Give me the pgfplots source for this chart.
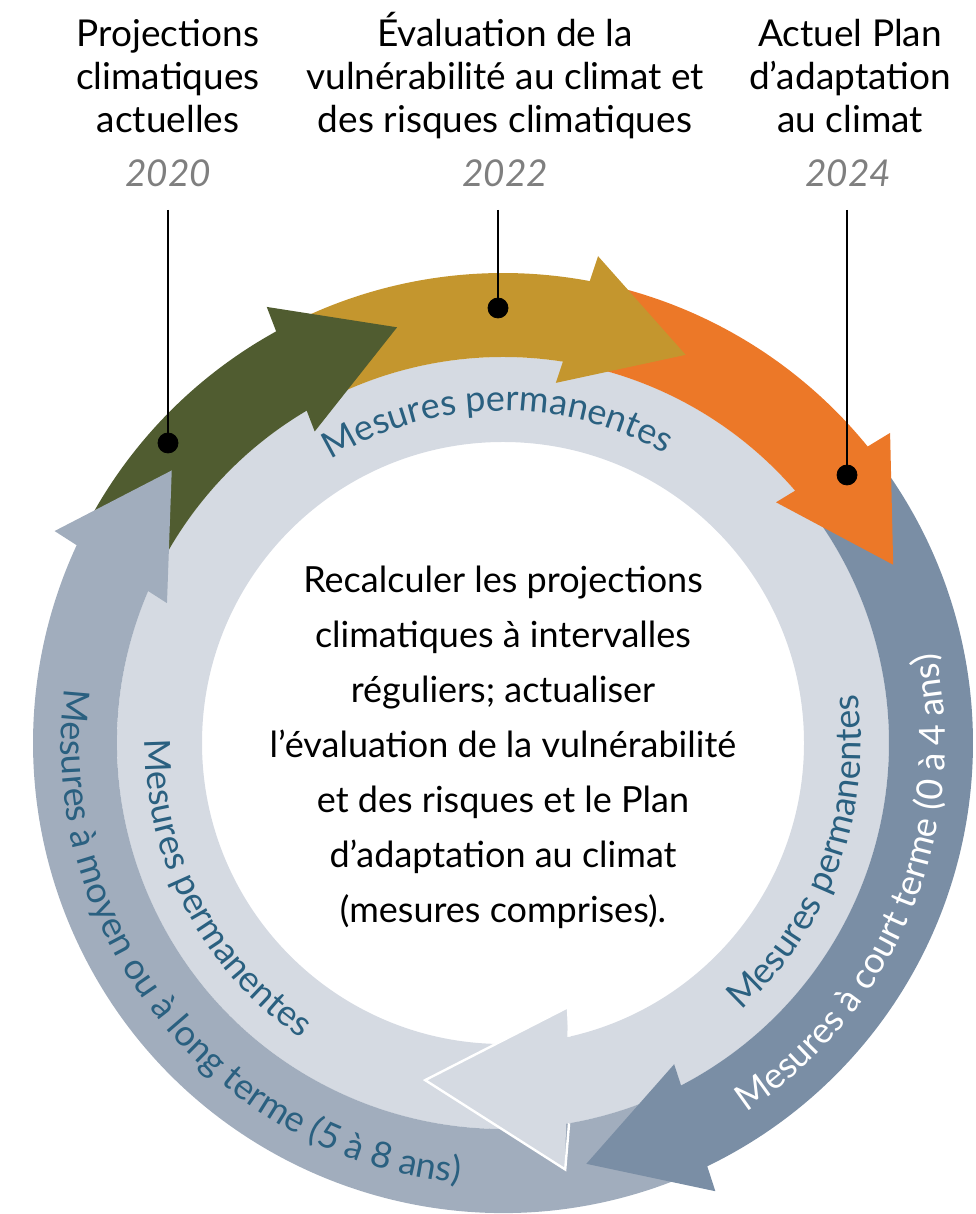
\documentclass[border=0pt]{standalone}
\usepackage{pgfplots}
\pgfplotsset{compat=1.18}
\usepackage{fontspec}
\setmainfont{Lato}
\usetikzlibrary{decorations.text}

\definecolor{cgreen}{HTML}{505C30}
\definecolor{cgold}{HTML}{C4962E}
\definecolor{corange}{HTML}{EC7828}
\definecolor{cslate}{HTML}{7A8EA5}
\definecolor{clb}{HTML}{A1ADBD}
\definecolor{cring}{HTML}{D5DAE2}
\definecolor{cteal}{HTML}{2A6080}
\definecolor{cyear}{HTML}{7F7F7F}

\newcommand\arcfont{\fontsize{18}{20}\selectfont}
\newcommand\headfont{\fontsize{18.5}{21.5}\selectfont}
\tikzset{ctr/.style={shift={(axis cs:503,471)}}}

\begin{document}
\begin{tikzpicture}
\begin{axis}[
  scale only axis, width=487.5pt, height=607pt,
  xmin=0, xmax=975, ymin=0, ymax=1214,
  hide axis, clip=false,
]
% inner ring (permanent measures)
\fill[cring, ctr, even odd rule] (0:193pt) arc[start angle=0, end angle=360, radius=193pt] -- cycle
  (0:150.5pt) arc[start angle=0, end angle=360, radius=150.5pt] -- cycle;

% outer ring bodies (each starts and ends under an arrow head)
\fill[cgreen, ctr] (153.55:235pt) arc[start angle=153.55, end angle=117.8, radius=235pt] -- (119.5:193pt) arc[start angle=119.5, end angle=155.55, radius=193pt] -- cycle;
\fill[cgold, ctr] (117.3:235pt) arc[start angle=117.3, end angle=78.3, radius=235pt] -- (80:193pt) arc[start angle=80, end angle=119.3, radius=193pt] -- cycle;
\fill[corange, ctr] (77.8:235pt) arc[start angle=77.8, end angle=38.05, radius=235pt] -- (39.75:193pt) arc[start angle=39.75, end angle=79.8, radius=193pt] -- cycle;
\fill[cslate, ctr] (37.55:235pt) arc[start angle=37.55, end angle=-65.3, radius=235pt] -- (-63.6:193pt) arc[start angle=-63.6, end angle=39.55, radius=193pt] -- cycle;
\fill[clb, ctr] (-65.8:235pt) arc[start angle=-65.8, end angle=-205.95, radius=235pt] -- (-204.25:193pt) arc[start angle=-204.25, end angle=-63.8, radius=193pt] -- cycle;

% arrow heads
\fill[cgreen, ctr] (118.45:248pt) -- (104.3:214.5pt) -- (121.15:182pt) -- cycle;
\fill[cgold, ctr] (78.95:248pt) -- (64.8:214.5pt) -- (81.65:182pt) -- cycle;
\fill[corange, ctr] (38.7:248pt) -- (24.55:214.5pt) -- (41.4:182pt) -- cycle;
\fill[cslate, ctr] (-64.65:248pt) -- (-78.8:214.5pt) -- (-61.95:182pt) -- cycle;
\fill[clb, ctr] (-205.3:248pt) -- (-219.45:214.5pt) -- (-202.6:182pt) -- cycle;

% head of the inner ring
\fill[cring, ctr] (-76.2:136pt) -- (-103:173pt) -- (-81.7:215.5pt) -- cycle;
\draw[white, line width=1.2pt, ctr] (-77.2:150.5pt) -- (-76.2:136pt) -- (-103:173pt) -- (-81.7:215.5pt) -- (-80.14:193pt);

% texts along the rings
\path[ctr, decorate, decoration={text along path, text={|\arcfont|Mesures permanentes}, text align=center, text color=cteal}]
  (161:166pt) arc[start angle=161, end angle=21, radius=166pt];
\path[ctr, decorate, decoration={text along path, text={|\arcfont|Mesures permanentes}, text align=center, text color=cteal}]
  (137.5:179pt) arc[start angle=137.5, end angle=277.5, radius=179pt];
\path[ctr, decorate, decoration={text along path, text={|\arcfont|Mesures permanentes}, text align=center, text color=cteal}]
  (-90.25:179pt) arc[start angle=-90.25, end angle=49.75, radius=179pt];
\path[ctr, decorate, decoration={text along path, text={|\arcfont|Mesures à moyen ou à long terme (5 à 8 ans)}, text align=center, text color=cteal}]
  (128.6:221pt) arc[start angle=128.6, end angle=308.6, radius=221pt];
\path[ctr, decorate, decoration={text along path, text={|\arcfont|Mesures à court terme (0 à 4 ans)}, text align=center, text color=white}]
  (-92.4:221pt) arc[start angle=-92.4, end angle=47.6, radius=221pt];

% leader lines and dots
\addplot[black, line width=1.3pt] coordinates {(168,1004) (168,771)};
\addplot[black, line width=1.3pt] coordinates {(498,1004) (498,906)};
\addplot[black, line width=1.3pt] coordinates {(847,1004) (847,739)};
\addplot[only marks, mark=*, mark size=5pt, black] coordinates {(168,771) (498,906) (847,739)};

% headings
\node[align=center, font=\headfont] at (axis cs:168,1138) {Projections\\climatiques\\actuelles};
\node[align=center, font=\headfont] at (axis cs:505,1138) {Évaluation de la\\vulnérabilité au climat et\\des risques climatiques};
\node[align=center, font=\headfont] at (axis cs:850,1138) {Actuel Plan\\d’adaptation\\au climat};
\node[font=\headfont\itshape, text=cyear] at (axis cs:168,1041) {2020};
\node[font=\headfont\itshape, text=cyear] at (axis cs:505,1041) {2022};
\node[font=\headfont\itshape, text=cyear] at (axis cs:848,1041) {2024};

% centre text
\node[align=center, font=\fontsize{18}{27.5}\selectfont] at (axis cs:503,467)
  {Recalculer les projections\\climatiques à intervalles\\réguliers; actualiser\\l’évaluation de la vulnérabilité\\et des risques et le Plan\\d’adaptation au climat\\(mesures comprises).};
\end{axis}
\pgfresetboundingbox
\path (current axis.south west) rectangle (current axis.north east);
\end{tikzpicture}
\end{document}
